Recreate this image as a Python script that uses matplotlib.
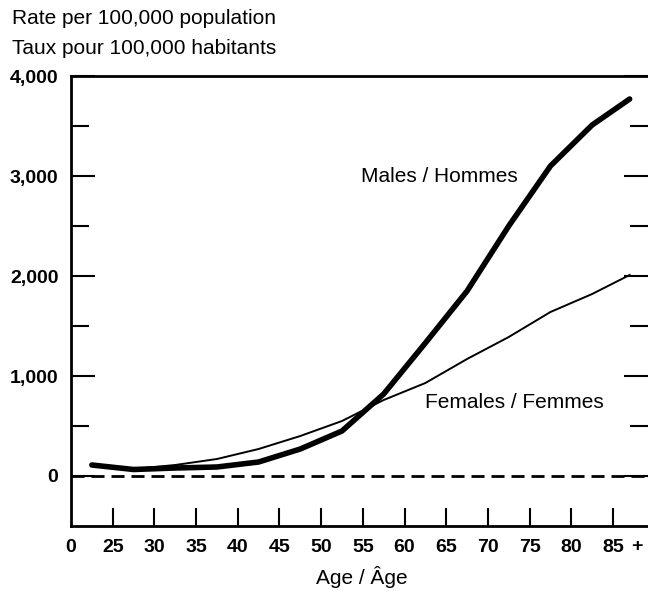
import numpy as np
import matplotlib
matplotlib.use("Agg")
import matplotlib.pyplot as plt

plt.rcParams['font.family'] = ['Liberation Sans', 'DejaVu Sans']

# age group midpoints (85+ plotted at 87)
ages = [22.5, 27.5, 32.5, 37.5, 42.5, 47.5, 52.5, 57.5, 62.5, 67.5, 72.5, 77.5, 82.5, 87.0]
males = [110, 65, 80, 90, 140, 270, 450, 820, 1330, 1850, 2500, 3100, 3510, 3770]
females = [100, 70, 110, 170, 270, 400, 550, 760, 930, 1170, 1390, 1640, 1820, 2010]

xtick_pos = [20, 25, 30, 35, 40, 45, 50, 55, 60, 65, 70, 75, 80, 85]
xtick_lab = ["0", "25", "30", "35", "40", "45", "50", "55", "60", "65", "70", "75", "80", "85"]
ytick_pos = [0, 1000, 2000, 3000, 4000]
ytick_lab = ["0", "1,000", "2,000", "3,000", "4,000"]

TICK_FS = 14
TEXT_FS = 15

fig = plt.figure(figsize=(6.48, 5.91), dpi=100)
ax = fig.add_axes([71/648, 1 - 526/591, 1 - 71/648, 450/591])

ax.plot(ages, males, color="black", lw=4, solid_capstyle="round", solid_joinstyle="round")
ax.plot(ages, females, color="black", lw=1.4)
ax.axhline(0, color="black", lw=2, ls=(0, (4.7, 2.5)))

ax.set_xlim(20, 89.2)
ax.set_ylim(-500, 4000)

ax.set_xticks(xtick_pos)
ax.set_xticklabels(xtick_lab, fontsize=TICK_FS, fontweight="bold")
ax.set_yticks(ytick_pos)
ax.set_yticklabels(ytick_lab, fontsize=TICK_FS, fontweight="bold")
ax.set_yticks(np.arange(500, 4000, 1000), minor=True)

ax.tick_params(axis="y", which="both", direction="in", left=True, right=True,
               width=1.5, pad=9)
ax.tick_params(axis="y", which="major", length=17)
ax.tick_params(axis="y", which="minor", length=13)
ax.tick_params(axis="x", direction="in", length=13, width=1.5, pad=9)
# no tick mark at the origin label
ax.xaxis.get_major_ticks()[0].tick1line.set_visible(False)

for side in ["left", "top", "bottom"]:
    ax.spines[side].set_linewidth(2)
ax.spines["right"].set_visible(False)

# "+" after the last age group label
ax.annotate("+", xy=(87.9, 0), xycoords=("data", "axes fraction"),
            xytext=(0, -9), textcoords="offset points",
            fontsize=TICK_FS, fontweight="bold", ha="center", va="top")

ax.text(64.2, 3000, "Males / Hommes", fontsize=TEXT_FS, ha="center", va="center")
ax.text(73.2, 740, "Females / Femmes", fontsize=TEXT_FS, ha="center", va="center")

fig.text(12/648, 1 - 18/591, "Rate per 100,000 population", fontsize=TEXT_FS, ha="left", va="center")
fig.text(12/648, 1 - 48/591, "Taux pour 100,000 habitants", fontsize=TEXT_FS, ha="left", va="center")
fig.text(362/648, 1 - 577/591, "Age / Âge", fontsize=TEXT_FS, ha="center", va="center")

fig.savefig("out.png", dpi=100)
